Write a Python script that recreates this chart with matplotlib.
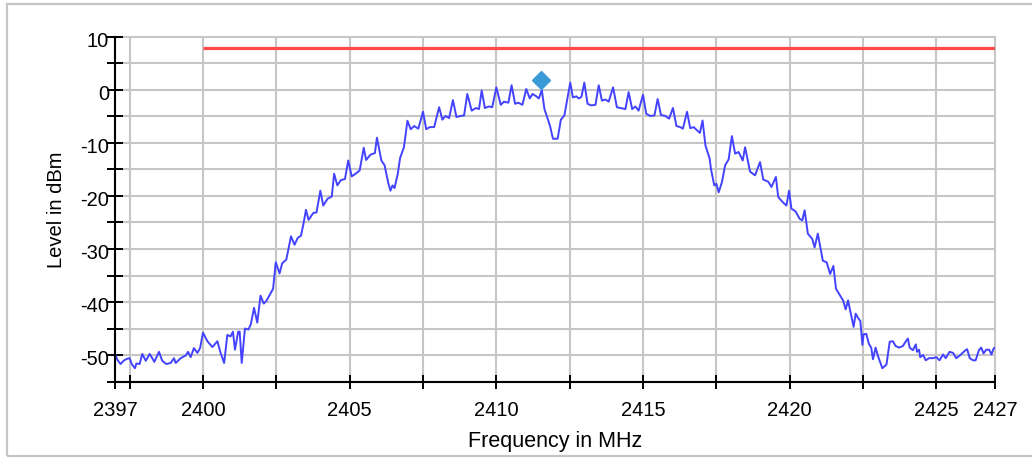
import matplotlib
matplotlib.use('Agg')
from matplotlib import pyplot as plt
from matplotlib.patches import Rectangle
from matplotlib.transforms import ScaledTranslation

plt.rcParams['font.family'] = ['Liberation Sans', 'DejaVu Sans']

# spectrum trace
freq_mhz = [
    2397.0, 2397.08, 2397.19, 2397.31, 2397.42, 2397.5, 2397.57, 2397.68, 2397.73, 2397.84,
    2397.93, 2398.05, 2398.18, 2398.27, 2398.34, 2398.5, 2398.61, 2398.75, 2398.9, 2399.01,
    2399.07, 2399.24, 2399.41, 2399.49, 2399.58, 2399.69, 2399.81, 2399.9, 2400.0, 2400.15,
    2400.32, 2400.49, 2400.6, 2400.72, 2400.83, 2400.94, 2401.02, 2401.09, 2401.2, 2401.25,
    2401.32, 2401.43, 2401.55, 2401.63, 2401.74, 2401.85, 2401.96, 2402.07, 2402.16, 2402.39,
    2402.48, 2402.61, 2402.7, 2402.84, 2402.89, 2403.0, 2403.12, 2403.23, 2403.34, 2403.42,
    2403.51, 2403.6, 2403.76, 2403.87, 2404.0, 2404.1, 2404.25, 2404.39, 2404.47, 2404.58,
    2404.7, 2404.84, 2404.95, 2405.07, 2405.2, 2405.34, 2405.48, 2405.56, 2405.71, 2405.86,
    2405.93, 2406.08, 2406.19, 2406.31, 2406.39, 2406.46, 2406.53, 2406.64, 2406.72, 2406.85,
    2406.97, 2407.08, 2407.2, 2407.34, 2407.5, 2407.61, 2407.73, 2407.88, 2408.05, 2408.16,
    2408.27, 2408.39, 2408.52, 2408.64, 2408.78, 2408.9, 2409.01, 2409.16, 2409.3, 2409.41,
    2409.5, 2409.61, 2409.75, 2409.86, 2410.0, 2410.15, 2410.26, 2410.41, 2410.52, 2410.64,
    2410.75, 2410.89, 2411.02, 2411.14, 2411.23, 2411.34, 2411.45, 2411.55, 2411.64, 2411.75,
    2411.84, 2411.93, 2412.05, 2412.09, 2412.2, 2412.32, 2412.43, 2412.52, 2412.61, 2412.73,
    2412.81, 2412.9, 2413.0, 2413.11, 2413.23, 2413.38, 2413.49, 2413.6, 2413.72, 2413.83,
    2413.98, 2414.11, 2414.23, 2414.4, 2414.51, 2414.63, 2414.74, 2414.85, 2415.0, 2415.11,
    2415.25, 2415.39, 2415.5, 2415.61, 2415.76, 2415.89, 2416.02, 2416.14, 2416.27, 2416.36,
    2416.5, 2416.61, 2416.73, 2416.84, 2416.94, 2417.03, 2417.13, 2417.27, 2417.32, 2417.43,
    2417.5, 2417.58, 2417.69, 2417.8, 2417.92, 2418.03, 2418.14, 2418.26, 2418.4, 2418.48,
    2418.65, 2418.82, 2418.99, 2419.1, 2419.27, 2419.38, 2419.53, 2419.61, 2419.77, 2419.89,
    2419.98, 2420.06, 2420.2, 2420.34, 2420.43, 2420.51, 2420.62, 2420.77, 2420.85, 2420.96,
    2421.13, 2421.26, 2421.38, 2421.49, 2421.58, 2421.7, 2421.82, 2421.91, 2421.99, 2422.14,
    2422.18, 2422.25, 2422.33, 2422.41, 2422.48, 2422.52, 2422.61, 2422.7, 2422.78, 2422.84,
    2422.93, 2423.01, 2423.07, 2423.16, 2423.3, 2423.41, 2423.52, 2423.61, 2423.73, 2423.86,
    2423.95, 2424.03, 2424.09, 2424.2, 2424.3, 2424.34, 2424.41, 2424.45, 2424.55, 2424.64,
    2424.75, 2424.89, 2425.0, 2425.11, 2425.23, 2425.32, 2425.45, 2425.57, 2425.68, 2425.82,
    2425.97, 2426.05, 2426.14, 2426.25, 2426.34, 2426.45, 2426.53, 2426.61, 2426.7, 2426.8,
    2426.88, 2426.95, 2427.0,
]
level_dbm = [
    -49.8, -50.9, -51.7, -51.0, -50.7, -50.6, -51.7, -52.5, -51.6, -51.7,
    -49.8, -51.1, -49.8, -50.6, -51.3, -49.4, -51.1, -51.7, -51.5, -50.6,
    -51.5, -50.6, -50.1, -49.4, -50.4, -48.7, -49.6, -48.7, -45.8, -47.4,
    -48.5, -47.4, -49.6, -51.5, -46.2, -46.5, -45.6, -49.0, -45.6, -45.6,
    -51.5, -45.0, -45.2, -44.2, -41.1, -43.9, -38.8, -40.3, -39.8, -37.5,
    -32.5, -34.6, -32.7, -32.0, -30.6, -27.6, -29.2, -27.9, -27.5, -25.4,
    -22.6, -24.5, -23.2, -23.1, -19.0, -21.8, -20.5, -20.1, -15.8, -18.0,
    -17.0, -16.8, -13.3, -16.3, -15.8, -15.2, -10.9, -13.2, -12.2, -11.9,
    -9.0, -13.3, -14.2, -17.4, -19.0, -18.0, -18.5, -15.8, -12.8, -10.8,
    -5.8, -7.4, -6.8, -7.3, -4.1, -7.4, -7.0, -7.0, -3.25, -5.6,
    -4.9, -5.3, -1.9, -5.1, -4.9, -4.8, -0.75, -3.9, -3.4, -3.6,
    -0.1, -3.4, -3.1, -3.25, 0.5, -2.8, -2.2, -2.4, 0.9, -2.6,
    -2.4, -2.8, 0.2, -1.6, -0.75, -1.1, -1.6, 0.0, -3.6, -5.4,
    -7.0, -9.2, -9.2, -9.2, -5.6, -4.8, -1.4, 1.4, -1.4, -1.2,
    -1.6, -1.3, 1.4, -2.6, -2.9, -2.8, 0.9, -2.0, -1.8, -2.2,
    0.5, -3.25, -3.4, -3.6, -0.4, -3.6, -3.1, -3.9, -0.9, -4.5,
    -4.9, -4.8, -1.7, -4.7, -4.9, -5.4, -3.4, -6.8, -7.0, -7.3,
    -4.1, -7.2, -7.0, -7.6, -8.1, -5.75, -10.5, -12.9, -15.0, -18.0,
    -17.7, -19.3, -17.4, -14.2, -13.1, -8.7, -12.0, -11.7, -13.3, -10.8,
    -15.4, -16.1, -13.6, -16.9, -17.3, -18.3, -16.4, -20.2, -21.2, -21.8,
    -19.0, -22.4, -22.9, -24.3, -24.6, -22.7, -27.1, -28.1, -29.7, -27.1,
    -32.2, -32.5, -34.7, -33.2, -37.5, -38.6, -39.7, -41.4, -39.7, -43.6,
    -44.7, -42.2, -43.0, -43.6, -48.1, -46.1, -46.0, -47.9, -48.6, -50.8,
    -48.6, -50.2, -51.1, -52.5, -51.8, -47.5, -47.4, -48.3, -48.6, -48.3,
    -47.5, -46.9, -48.6, -49.1, -48.0, -49.4, -49.0, -50.4, -50.0, -51.0,
    -50.6, -50.6, -50.4, -51.0, -49.9, -50.6, -49.4, -49.6, -50.6, -50.0,
    -49.2, -48.9, -50.6, -51.0, -51.0, -49.1, -48.6, -49.7, -49.0, -49.0,
    -49.9, -48.8, -48.6,
]

# limit line and peak marker
limit_start_mhz = 2400.0
limit_stop_mhz = 2427.0
limit_dbm = 8.0
peak_mhz = 2411.53
peak_dbm = 1.9

x_ticks = [2397, 2397.5, 2400, 2402.5, 2405, 2407.5, 2410, 2412.5,
           2415, 2417.5, 2420, 2422.5, 2425, 2427]
x_labeled = [2397, 2400, 2405, 2410, 2415, 2420, 2425, 2427]
y_ticks = [-55, -50, -45, -40, -35, -30, -25, -20, -15, -10, -5, 0, 5, 10]
y_labeled = [-50, -40, -30, -20, -10, 0, 10]

fig = plt.figure(figsize=(10.32, 4.58), dpi=100)
fig.patches.append(Rectangle((7 / 1032, 2 / 458), 1.2, 452 / 458, transform=fig.transFigure,
                             fill=False, edgecolor='#c4c4c4', linewidth=1.6))
ax = fig.add_axes([115 / 1032, 1 - 381.5 / 458, 880 / 1032, 344.5 / 458])

ax.plot(freq_mhz, level_dbm, color='#4343ff', linewidth=1.4, zorder=3)
ax.plot([limit_start_mhz, limit_stop_mhz], [limit_dbm, limit_dbm],
        color='#ff4b4b', linewidth=2.3, zorder=3, solid_capstyle='butt')
ax.plot([peak_mhz], [peak_dbm], marker='D', markersize=9.6, color='#3d9ad9',
        linestyle='none', zorder=4)

ax.set_xlim(2397, 2427)
ax.set_ylim(-55, 10)

ax.set_xticks(x_ticks)
ax.set_xticklabels([f'{t:g}' if t in x_labeled else '' for t in x_ticks])
ax.set_yticks(y_ticks)
ax.set_yticklabels([f'{t:g}' if t in y_labeled else '' for t in y_ticks])

ax.grid(True, color='#c6c6c6', linewidth=1.5)
ax.set_axisbelow(True)
for gl in ax.get_xgridlines() + ax.get_ygridlines():
    gl.set_clip_on(False)

ax.tick_params(axis='both', direction='inout', width=1.4, colors='black', labelsize=14.5)
ax.tick_params(axis='x', length=10, pad=9)
ax.tick_params(axis='y', length=11.5, pad=-1.5)

# y labels sit a little below their ticks
shift_down = ScaledTranslation(0, -1.8 / 72, fig.dpi_scale_trans)
for lbl in ax.get_yticklabels():
    lbl.set_transform(lbl.get_transform() + shift_down)

for side in ('top', 'right'):
    ax.spines[side].set_visible(False)
for side in ('left', 'bottom'):
    ax.spines[side].set_linewidth(1.5)
    ax.spines[side].set_zorder(5)

ax.set_xlabel('Frequency in MHz', fontsize=15.5, labelpad=8)
ax.set_ylabel('Level in dBm', fontsize=14.5, labelpad=10)

fig.savefig('out.png', dpi=100)
